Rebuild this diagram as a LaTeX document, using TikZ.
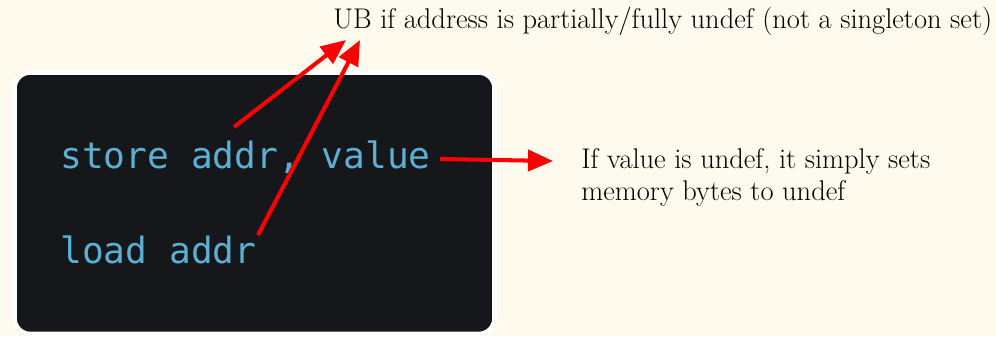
\documentclass[tikz,border=0pt]{standalone}
\usepackage{fontspec}
\usepackage{tikz}
\usetikzlibrary{arrows.meta}
\newfontfamily\codefont{DejaVu Sans Mono}
\definecolor{paper}{HTML}{FFFAEE}
\definecolor{termbg}{HTML}{16171A}
\definecolor{termtext}{HTML}{5AAFD2}
\tikzset{
  codeline/.style={anchor=base west,inner sep=0pt,text=termtext,
    font=\codefont\fontsize{20.6}{24}\selectfont},
  remark/.style={anchor=base west,inner sep=0pt,align=left,
    font=\fontsize{16.2}{18.2}\selectfont},
  redarrow/.style={draw=red,line width=2.3pt,
    -{Triangle[length=0.5cm,width=0.42cm]}}
}

\begin{document}
\begin{tikzpicture}[x=0.02cm,y=-0.02cm]
        \fill[paper] (0,0) rectangle (996,336);
        \useasboundingbox (0,0) rectangle (996,336);
        \draw[white,line width=2.6pt,fill=termbg,rounded corners=9pt] (14.5,72.5) rectangle (494.5,334);
        \node[codeline] (store) at (60,168) {store addr, value};
        \node[codeline] (load) at (60,263) {load addr};
        \node[remark] (ub) at (333,28) {UB if address is partially/fully undef (not a singleton set)};
        % base of a two-line node is its last line
        \node[remark] (undef) at (581,200) {If value is undef, it simply sets\\memory bytes to undef};
        \coordinate (from1) at (234,127);
        \coordinate (to1) at (346,40);
        \coordinate (from2) at (258,235);
        \coordinate (to2) at (360,40);
        \coordinate (from3) at (440,159);
        \coordinate (to3) at (553,161);
        \draw[redarrow] (from1) -- (to1);
        \draw[redarrow] (from2) -- (to2);
        \draw[redarrow] (from3) -- (to3);
    \end{tikzpicture}
\end{document}
